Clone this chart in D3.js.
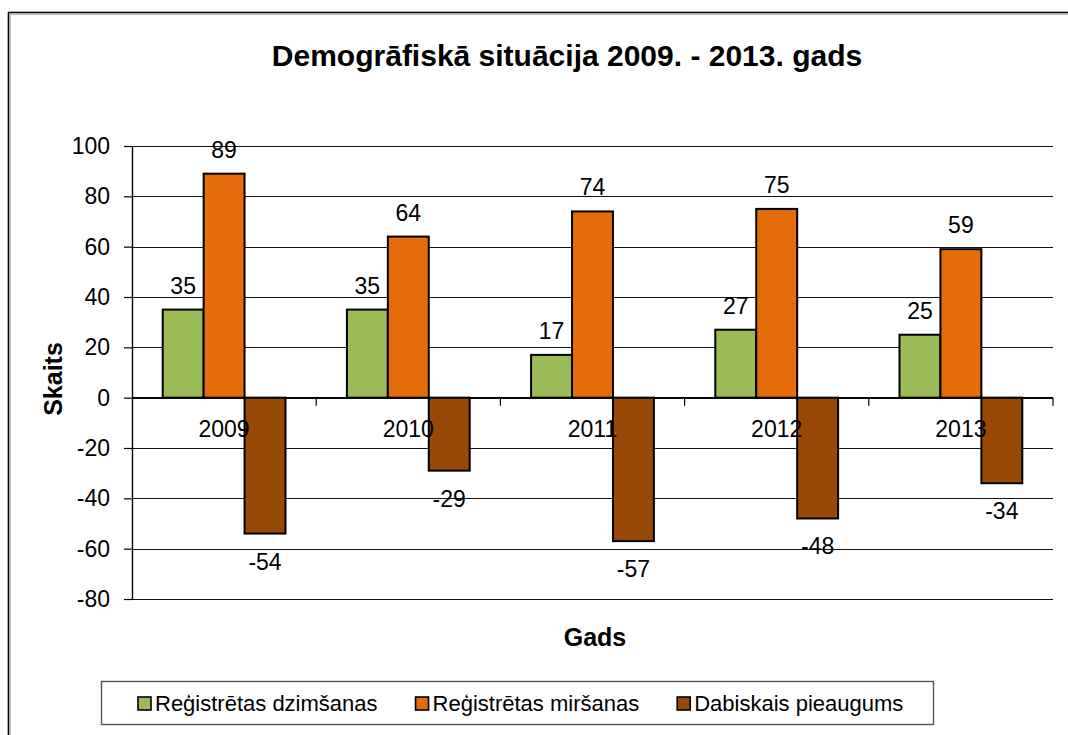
<!DOCTYPE html>
<html>
<head>
<meta charset="utf-8">
<script src="https://cdn.jsdelivr.net/npm/d3@7"></script>
<style>
  body { margin: 0; background: #fff; }
  svg { display: block; font-family: "Liberation Sans", Arial, sans-serif; }
</style>
</head>
<body>
<div id="chart"></div>
<script>
// data
const years = ['2009', '2010', '2011', '2012', '2013'];
const seriesNames = ['Reģistrētas dzimšanas', 'Reģistrētas miršanas', 'Dabiskais pieaugums'];
const births = [35, 35, 17, 27, 25];
const deaths = [89, 64, 74, 75, 59];
const naturalGrowth = [-54, -29, -57, -48, -34];
const yTicks = [-80, -60, -40, -20, 0, 20, 40, 60, 80, 100];
const colors = ['#9BBB59', '#E46C0A', '#984807'];

const width = 1068, height = 735;
const plot = { left: 132, right: 1053, top: 146, bottom: 599 };

const svg = d3.select('#chart')
    .append('svg')
    .attr('width', width)
    .attr('height', height);

// outer chart border (runs off the right/bottom edge like the screenshot)
svg.append('rect')
    .attr('x', 8.5).attr('y', 12.5)
    .attr('width', 1200).attr('height', 900)
    .attr('fill', 'none')
    .attr('stroke', '#000')
    .attr('stroke-width', 1.6);
svg.append('rect')
    .attr('x', 10.5).attr('y', 14.5)
    .attr('width', 1200).attr('height', 900)
    .attr('fill', 'none')
    .attr('stroke', '#bbb')
    .attr('stroke-width', 1);

const rows = years.map((yr, i) => ({
    year: yr,
    values: [births[i], deaths[i], naturalGrowth[i]]
}));

const x = d3.scaleBand()
    .domain(years)
    .range([plot.left, plot.right])
    .paddingInner(0)
    .paddingOuter(0);

const xInner = d3.scaleBand()
    .domain(d3.range(seriesNames.length))
    .range([0, x.bandwidth()])
    .paddingInner(0)
    .paddingOuter(0.75);

const y = d3.scaleLinear()
    .domain([-80, 100])
    .range([plot.bottom, plot.top]);

// gridlines
svg.append('g')
    .selectAll('line')
    .data(yTicks)
    .join('line')
    .attr('x1', plot.left)
    .attr('x2', plot.right)
    .attr('y1', d => Math.round(y(d)) + 0.5)
    .attr('y2', d => Math.round(y(d)) + 0.5)
    .attr('stroke', '#111')
    .attr('stroke-width', 1.2);

// y axis (plain hyphen for negatives, like the original)
const yAxis = svg.append('g')
    .attr('transform', 'translate(' + plot.left + ',0)')
    .call(d3.axisLeft(y)
        .tickValues(yTicks)
        .tickFormat(d => String(d))
        .tickSize(8)
        .tickPadding(14)
        .tickSizeOuter(0));
yAxis.select('.domain').attr('stroke', '#000').attr('stroke-width', 1.4);
yAxis.selectAll('.tick line').attr('stroke', '#000').attr('stroke-width', 1.2);
yAxis.selectAll('text')
    .style('font-size', '23px')
    .attr('fill', '#000')
    .attr('font-family', '"Liberation Sans", Arial, sans-serif');

// bars
const groups = svg.append('g')
    .selectAll('g')
    .data(rows)
    .join('g')
    .attr('transform', d => 'translate(' + x(d.year) + ',0)');

groups.selectAll('rect')
    .data(d => d.values.map((v, k) => ({ k: k, v: v })))
    .join('rect')
    .attr('x', d => xInner(d.k))
    .attr('y', d => y(Math.max(0, d.v)))
    .attr('width', xInner.bandwidth())
    .attr('height', d => Math.abs(y(d.v) - y(0)))
    .attr('fill', d => colors[d.k])
    .attr('stroke', '#000')
    .attr('stroke-width', 2);

// category axis along zero
const xAxis = svg.append('g')
    .attr('transform', 'translate(0,' + y(0) + ')');
xAxis.append('line')
    .attr('x1', plot.left).attr('x2', plot.right)
    .attr('stroke', '#000').attr('stroke-width', 1.4);
xAxis.selectAll('.cat-tick')
    .data(years.slice(1).concat(['end']))
    .join('line')
    .attr('class', 'cat-tick')
    .attr('x1', d => d === 'end' ? plot.right : x(d))
    .attr('x2', d => d === 'end' ? plot.right : x(d))
    .attr('y1', 0).attr('y2', 8)
    .attr('stroke', '#000').attr('stroke-width', 1.2);
xAxis.selectAll('text')
    .data(years)
    .join('text')
    .attr('x', d => x(d) + x.bandwidth() / 2)
    .attr('y', 39)
    .attr('text-anchor', 'middle')
    .style('font-size', '23px')
    .text(d => d);

// data labels
groups.selectAll('.val')
    .data(d => d.values.map((v, k) => ({ k: k, v: v })))
    .join('text')
    .attr('class', 'val')
    .attr('x', d => xInner(d.k) + xInner.bandwidth() / 2)
    .attr('y', d => d.v >= 0 ? y(d.v) - 16 : y(d.v) + 36)
    .attr('text-anchor', 'middle')
    .style('font-size', '23px')
    .text(d => d.v);

// title
svg.append('text')
    .attr('x', 567)
    .attr('y', 66)
    .attr('text-anchor', 'middle')
    .style('font-size', '30px')
    .style('font-weight', 'bold')
    .text('Demogrāfiskā situācija 2009. - 2013. gads');

// axis titles
svg.append('text')
    .attr('transform', 'translate(62,379) rotate(-90)')
    .attr('text-anchor', 'middle')
    .style('font-size', '25px')
    .style('font-weight', 'bold')
    .text('Skaits');

svg.append('text')
    .attr('x', 595)
    .attr('y', 646)
    .attr('text-anchor', 'middle')
    .style('font-size', '25px')
    .style('font-weight', 'bold')
    .text('Gads');

// legend
const legend = svg.append('g');
legend.append('rect')
    .attr('x', 101.5).attr('y', 681.5)
    .attr('width', 832).attr('height', 43)
    .attr('fill', '#fff')
    .attr('stroke', '#555')
    .attr('stroke-width', 1.4);

let lx = 138;
seriesNames.forEach((name, i) => {
    legend.append('rect')
        .attr('x', lx).attr('y', 697)
        .attr('width', 13).attr('height', 13)
        .attr('fill', colors[i])
        .attr('stroke', '#000')
        .attr('stroke-width', 1.6);
    const t = legend.append('text')
        .attr('x', lx + 17)
        .attr('y', 711)
        .style('font-size', '22px')
        .text(name);
    lx += 17 + t.node().getComputedTextLength() + 38;
});
</script>
</body>
</html>
